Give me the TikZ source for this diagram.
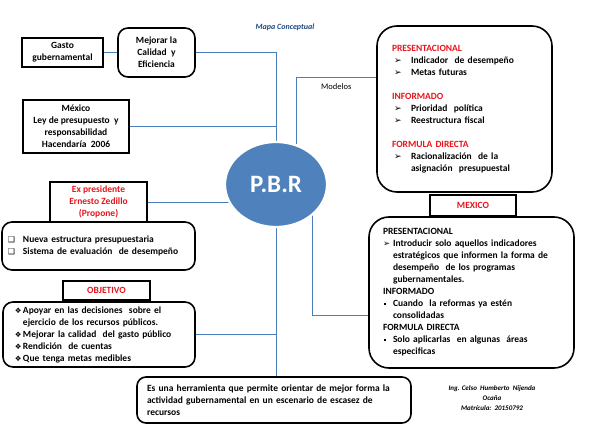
\documentclass[tikz,border=0pt]{standalone}
\usepackage{fontspec}
\setmainfont{Carlito}
\newfontfamily\symf{DejaVu Sans}
\usepackage{xcolor}
\usepackage{tikz}
\usetikzlibrary{shapes.geometric,backgrounds,shadows}
\definecolor{linec}{HTML}{4A7EBB}
\definecolor{pbrc}{HTML}{4F81BD}
\definecolor{redt}{HTML}{E8141B}
\definecolor{titlec}{HTML}{1F497D}
\tikzset{
  sq/.style={draw=black,line width=1.6pt,align=center,inner sep=0pt,font=\bfseries\fontsize{9.5}{12}\selectfont},
  rbox/.style={sq,rounded corners=10pt},
  lbox/.style={rbox,align=left},
  ln/.style={linec,line width=0.8pt},
  pbrnode/.style={ellipse,fill=pbrc,draw=white,line width=2.2pt,minimum width=102pt,minimum height=85pt,inner sep=0pt,text=white,
    font=\bfseries\fontsize{25}{30}\selectfont,drop shadow={opacity=0.25,shadow xshift=0.6pt,shadow yshift=-0.8pt}}
}
\newcommand{\arr}{\hspace*{2pt}\makebox[17pt][l]{\symf\fontsize{9}{12}\selectfont ➢}}
\newcommand{\arrs}{\makebox[10pt][l]{\symf\fontsize{8.5}{12}\selectfont ➢}}
\newcommand{\sqb}{\makebox[15pt][l]{\symf\fontsize{8}{12}\selectfont ❑}}
\newcommand{\dia}{\makebox[8pt][l]{\symf\fontsize{7.5}{12}\selectfont ❖}}
\newcommand{\dotb}{\makebox[10pt][l]{\hspace*{1pt}\rule[2pt]{1.6pt}{1.6pt}}}
\newcommand{\rtxt}[1]{\textcolor{redt}{#1}}

\begin{document}
\begin{tikzpicture}[x=1pt,y=-1pt]
\useasboundingbox (0,0) rectangle (595,438);
\node[font=\bfseries\itshape\fontsize{8}{10}\selectfont,titlec] (title) at (285,27) {Mapa Conceptual};
\node[sq,minimum width=81pt,minimum height=29pt] (gasto) at (62.5,52.5) {Gasto\\gubernamental};
\node[rbox,minimum width=77pt,minimum height=49pt] (mejorar) at (156.5,52.5) {Mejorar la\\Calidad\ \ y\\Eficiencia};
\node[sq,minimum width=106pt,minimum height=53pt] (mexico) at (76,126.5) {México\\Ley de presupuesto\ \ y\\responsabilidad\\Hacendaría\ \ 2006};
\node[pbrnode] (pbr) at (276,184.5) {P.B.R};
\node[sq,text=redt,minimum width=97pt,minimum height=40pt] (expres) at (98.5,202) {Ex presidente\\Ernesto Zedillo\\(Propone)};
\node[lbox,minimum width=193pt,minimum height=48pt,inner xsep=6pt,text width=181pt] (nueva) at (98.5,246)
  {\sqb Nueva estructura presupuestaria\\\sqb Sistema de evaluación\ \ de desempeño};
\node[sq,text=redt,minimum width=87pt,minimum height=19pt] (objetivo) at (106.5,290.5) {OBJETIVO};
\node[lbox,minimum width=192pt,minimum height=65pt,inner xsep=12pt,text width=168pt] (objlist) at (99,334.5)
  {\dia Apoyar en las decisiones\ \ sobre el\\\hspace*{8pt}ejercicio de los recursos públicos.\\\dia Mejorar la calidad\ \ del gasto público\\\dia Rendición\ \ de cuentas\\\dia Que tenga metas medibles};
\node[lbox,rounded corners=9pt,minimum width=274pt,minimum height=46pt,inner xsep=10pt,text width=254pt] (bottom) at (274,400)
  {Es una herramienta que permite orientar de mejor forma la\\actividad gubernamental en un escenario de escasez de\\recursos};
\node[lbox,rounded corners=20pt,minimum width=175pt,minimum height=166pt,inner xsep=15pt,text width=145pt] (models) at (464.5,109)
  {\rtxt{PRESENTACIONAL}\\\arr Indicador\ \ de desempeño\\\arr Metas futuras\\[12pt]
   \rtxt{INFORMADO}\\\arr Prioridad\ \ política\\\arr Reestructura fiscal\\[12pt]
   \rtxt{FORMULA DIRECTA}\\\arr Racionalización\ \ de la\\\hspace*{19pt}asignación\ \ presupuestal};
\node[sq,text=redt,minimum width=86pt,minimum height=21pt] (mexlabel) at (473,205.5) {MEXICO};
\node[lbox,rounded corners=20pt,minimum width=205pt,minimum height=151pt,inner xsep=14pt,text width=177pt] (mexdet) at (471.5,292.5)
  {PRESENTACIONAL\\\arrs Introducir solo aquellos indicadores\\\hspace*{10pt}estratégicos que informen la forma de\\\hspace*{10pt}desempeño\ \ de los programas\\\hspace*{10pt}gubernamentales.\\
   INFORMADO\\\dotb Cuando\ \ la reformas ya estén\\\hspace*{10pt}consolidadas\\
   FORMULA DIRECTA\\\dotb Solo aplicarlas\ \ en algunas\ \ áreas\\\hspace*{10pt}especificas};
\node[align=center,font=\bfseries\itshape\fontsize{7}{10}\selectfont] (autor) at (492,398) {Ing. Celso\ \ Humberto\ \ Nijenda\\Ocaña\\Matrícula:\ \ 20150792};
\coordinate (mdl) at (300,77);
\coordinate (mdr) at (300,315);
\begin{scope}[on background layer]
\draw[ln] (gasto) -- (mejorar);
\draw[ln] (mejorar.east) -| (pbr.north);
\draw[ln] (mexico.east) -- (mexico.east -| pbr.north);
\draw[ln] (expres.east) -- (expres.east -| pbr.center);
\draw[ln] (pbr.63) |- node[pos=0.75,below=3pt,black,font=\fontsize{8.5}{10}\selectfont] (mdlabel) {Modelos} (models.west |- mdl);
\draw[ln] (pbr.-40) |- (mexdet.west |- mdr);
\draw[ln] (objlist.east) -- (objlist.east -| pbr.south);
\draw[ln] (pbr.south) -- (pbr.south |- bottom.north);
\end{scope}
\end{tikzpicture}
\end{document}
